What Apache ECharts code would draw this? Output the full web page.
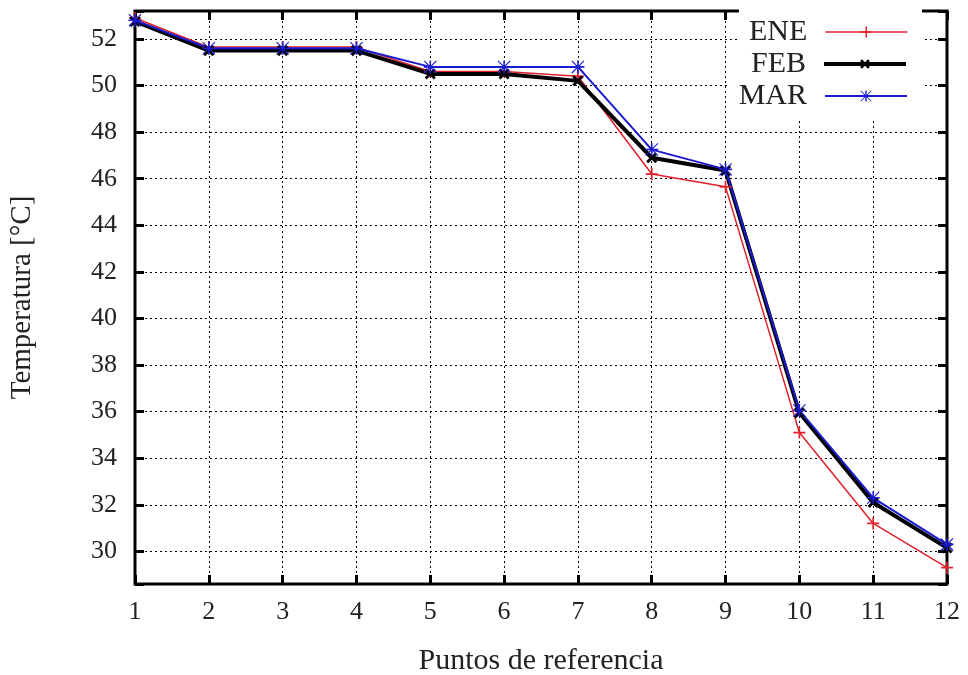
<!DOCTYPE html>
<html>
<head>
<meta charset="utf-8">
<script src="https://cdn.jsdelivr.net/npm/echarts@6/dist/echarts.min.js"></script>
<style>
  html, body { margin: 0; padding: 0; background: #fff; }
  #chart { width: 968px; height: 675px; }
</style>
</head>
<body>
<div id="chart"></div>
<script>
// puntos de referencia y temperaturas
const puntos = [1, 2, 3, 4, 5, 6, 7, 8, 9, 10, 11, 12]
const ene = [52.9, 51.65, 51.65, 51.65, 50.6, 50.6, 50.4, 46.2, 45.65, 35.1, 31.2, 29.3]
const feb = [52.75, 51.5, 51.5, 51.5, 50.5, 50.5, 50.2, 46.9, 46.35, 35.95, 32.1, 30.15]
const mar = [52.8, 51.6, 51.6, 51.6, 50.8, 50.8, 50.8, 47.25, 46.4, 36.05, 32.3, 30.3]

const FONT = 'Liberation Serif'
const TEXT = '#222'

// simbolos estilo gnuplot
const PLUS = 'path://M4.3,0H5.7V10H4.3Z M0,4.3H10V5.7H0Z'
const CROSS = 'path://M3.9,0H6.1V10H3.9Z M0,3.9H10V6.1H0Z'
const STAR = 'path://M4.4,0H5.6V10H4.4Z M0,4.4H10V5.6H0Z M0.6,0L10,9.4L9.4,10L0,0.6Z M9.4,0L10,0.6L0.6,10L0,9.4Z'

const pairs = (ys) => puntos.map((x, i) => [x, ys[i]])

const chart = echarts.init(document.getElementById('chart'))

const yFmt = (v) => {
    const r = Math.round(v)
    return (Math.abs(v - r) < 1e-6 && r % 2 === 0) ? String(r) : ''
}

const yBase = {
    type: 'value',
    min: 28.6,
    max: 53.2,
    splitNumber: 12,
    minInterval: 2,
    maxInterval: 2,
    axisLine: { show: false },
    axisTick: { show: true, inside: true, length: 9, lineStyle: { color: '#000', width: 3 } }
}

const xBase = {
    type: 'value',
    min: 1,
    max: 12,
    interval: 1,
    axisLine: { show: false },
    axisTick: { show: true, inside: true, length: 9, lineStyle: { color: '#000', width: 3 } }
}

function legendFor(name, top, padding, lineWidth) {
    return {
        data: [name],
        right: 46,
        top: top,
        orient: 'vertical',
        align: 'right',
        itemWidth: 82,
        itemHeight: 14,
        padding: padding,
        backgroundColor: '#fff',
        selectedMode: false,
        lineStyle: { width: lineWidth },
        textStyle: { fontFamily: FONT, fontSize: 30, color: TEXT, padding: [0, 13, 0, 0] }
    }
}

chart.setOption({
    backgroundColor: '#fff',
    animation: false,
    grid: {
        left: 135,
        right: 21,
        top: 11,
        bottom: 91,
        outerBoundsMode: 'none',
        containLabel: false,
        show: true,
        borderColor: '#000',
        borderWidth: 3
    },
    legend: [
        legendFor('ENE', 8, [9, 14, 3, 10], 1.5),
        legendFor('FEB', 46, [3, 14, 3, 10], 4),
        legendFor('MAR', 78, [3, 14, 10, 10], 2)
    ],
    xAxis: [
        Object.assign({}, xBase, {
            position: 'bottom',
            name: 'Puntos de referencia',
            nameLocation: 'middle',
            nameGap: 62,
            nameTextStyle: { fontFamily: FONT, fontSize: 30, color: TEXT },
            axisLabel: { fontFamily: FONT, fontSize: 26, color: TEXT, margin: 15 },
            splitLine: { show: true, lineStyle: { color: '#000', width: 1, type: [2, 3] } }
        }),
        Object.assign({}, xBase, {
            position: 'top',
            axisLabel: { show: false },
            splitLine: { show: false }
        })
    ],
    yAxis: [
        Object.assign({}, yBase, {
            position: 'left',
            name: 'Temperatura [°C]',
            nameLocation: 'middle',
            nameGap: 98,
            nameRotate: 90,
            nameTextStyle: { fontFamily: FONT, fontSize: 29, color: TEXT },
            axisLabel: { fontFamily: FONT, fontSize: 26, color: TEXT, margin: 18, formatter: yFmt },
            splitLine: { show: true, lineStyle: { color: '#000', width: 1, type: [2, 3] } }
        }),
        Object.assign({}, yBase, {
            position: 'right',
            axisLabel: { show: false },
            splitLine: { show: false }
        })
    ],
    series: [
        {
            name: 'ENE',
            type: 'line',
            data: pairs(ene),
            symbol: PLUS,
            symbolSize: 12,
            lineStyle: { color: '#e0202a', width: 1.5 },
            itemStyle: { color: '#e0202a' }
        },
        {
            name: 'FEB',
            type: 'line',
            data: pairs(feb),
            symbol: CROSS,
            symbolSize: 13,
            symbolRotate: 45,
            lineStyle: { color: '#000', width: 4 },
            itemStyle: { color: '#000' }
        },
        {
            name: 'MAR',
            type: 'line',
            data: pairs(mar),
            symbol: STAR,
            symbolSize: 13,
            lineStyle: { color: '#1a1ad0', width: 2 },
            itemStyle: { color: '#1a1ad0' }
        }
    ]
})
</script>
</body>
</html>
